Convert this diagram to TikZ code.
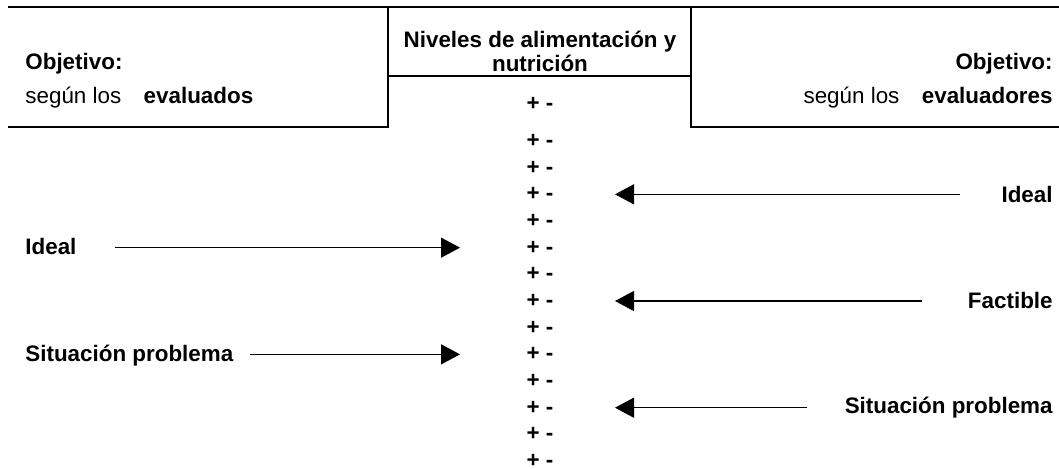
\documentclass[tikz,border=0pt]{standalone}
\usepackage{fontspec}
\setmainfont{Liberation Sans}
\usetikzlibrary{arrows.meta}

\begin{document}
\begin{tikzpicture}[
  x=0.5pt, y=-0.5pt,  % one unit = one pixel of the layout, y grows downwards
  every node/.style={inner sep=0pt, font=\fontsize{11.2}{12}\selectfont},
  negrita/.style={font=\fontsize{11.2}{12}\selectfont\bfseries},
  marco/.style={line width=1.3pt},
  flecha/.style={line width=0.6pt, -{Triangle[length=9.5pt,width=10pt]}}
]
\useasboundingbox (0,0) rectangle (1059,469);

% ---------------- Header frame ----------------
\draw[marco] (8,7) -- (1059,7);
\draw[marco] (8,127) -| (388,7);
\draw[marco] (1059,127) -| (691,7);
\draw[marco] (388,76) -- (691,76);

% objectives, left and right
\node[negrita, anchor=base west] (objL) at (25,70) {Objetivo:};
\node[anchor=base west] (segL) at (25,104) {según los\quad\textbf{evaluados}};
\node[negrita, anchor=base east] (objR) at (1053,70) {Objetivo:};
\node[anchor=base east] (segR) at (1053,104) {según los\quad\textbf{evaluadores}};

% centre title
\node[negrita, align=center] (niveles) at (540,51) {Niveles de alimentación y\\nutrición};

% ---------------- Scale column ----------------
\node[negrita] (pm0) at (540,104) {+ -};
\foreach \i in {1,...,13}
  \node[negrita] (pm\i) at (540,{114.33+26.67*\i}) {+ -};

% tip columns on both sides of the scale
\coordinate (tipL) at (460,0);
\coordinate (tipR) at (615,0);

% ---------------- Left side: evaluados ----------------
\node[negrita, anchor=base west] (idealL) at (25,255) {Ideal};
\node[negrita, anchor=base west] (sitL) at (25,362) {Situación problema};
\coordinate (sIdealL) at (115,0);
\coordinate (sSitL) at (250,0);
\draw[flecha] (pm5 -| sIdealL) -- (pm5 -| tipL);
\draw[flecha] (pm9 -| sSitL) -- (pm9 -| tipL);

% ---------------- Right side: evaluadores ----------------
\node[negrita, anchor=base east] (idealR) at (1053,203) {Ideal};
\node[negrita, anchor=base east] (factR) at (1053,309) {Factible};
\node[negrita, anchor=base east] (sitR) at (1053,414) {Situación problema};
\coordinate (sIdealR) at (960,0);
\coordinate (sFactR) at (922,0);
\coordinate (sSitR) at (807,0);
\draw[flecha] (pm3 -| sIdealR) -- (pm3 -| tipR);
\draw[flecha] (pm7 -| sFactR) -- (pm7 -| tipR);
\draw[flecha] (pm11 -| sSitR) -- (pm11 -| tipR);

\end{tikzpicture}
\end{document}
